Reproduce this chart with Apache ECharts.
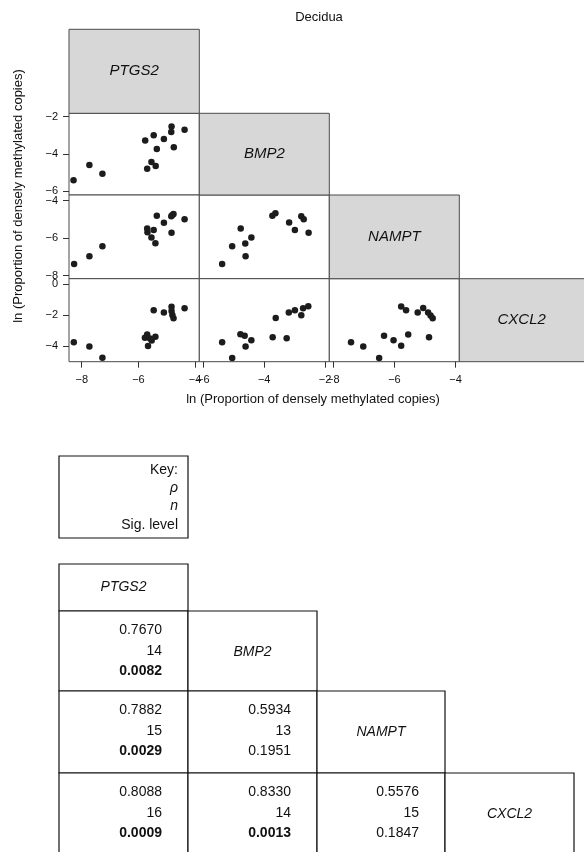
<!DOCTYPE html>
<html>
<head>
<meta charset="utf-8">
<script src="https://cdn.jsdelivr.net/npm/echarts@6/dist/echarts.min.js"></script>
<style>
  html, body { margin: 0; padding: 0; background: #fff; }
  #chart { width: 584px; height: 852px; }
</style>
</head>
<body>
<div id="chart"></div>
<script>
const genes = ['PTGS2', 'BMP2', 'NAMPT', 'CXCL2'];

// scatter points, one array per panel: [x gene value, y gene value]
const ptgs2VsBmp2 = [
  [-8.29, -5.42], [-7.73, -4.60], [-7.27, -5.07], [-5.76, -3.29], [-5.46, -3.01],
  [-5.35, -3.74], [-5.10, -3.21], [-4.83, -2.54], [-4.84, -2.83], [-4.37, -2.71],
  [-4.75, -3.65], [-5.54, -4.44], [-5.39, -4.65], [-5.69, -4.80]
];
const ptgs2VsNampt = [
  [-8.27, -7.38], [-7.73, -6.97], [-7.27, -6.43], [-5.35, -4.80], [-5.69, -5.48],
  [-5.68, -5.69], [-5.46, -5.57], [-5.54, -5.97], [-5.40, -6.27], [-5.10, -5.18],
  [-4.84, -4.83], [-4.76, -4.71], [-4.80, -4.76], [-4.37, -4.99], [-4.83, -5.71]
];
const bmp2VsNampt = [
  [-5.38, -7.38], [-5.05, -6.43], [-4.77, -5.48], [-4.62, -6.28], [-4.42, -5.97],
  [-4.61, -6.97], [-3.73, -4.80], [-3.63, -4.67], [-3.18, -5.17], [-2.99, -5.56],
  [-2.78, -4.83], [-2.70, -4.99], [-2.54, -5.71]
];
const ptgs2VsCxcl2 = [
  [-8.28, -3.75], [-7.73, -4.03], [-7.27, -4.75], [-5.77, -3.47], [-5.69, -3.26],
  [-5.66, -4.00], [-5.53, -3.65], [-5.40, -3.40], [-5.59, -3.52], [-5.46, -1.69],
  [-5.10, -1.84], [-4.83, -1.46], [-4.83, -1.75], [-4.80, -2.00], [-4.76, -2.21],
  [-4.37, -1.56]
];
const bmp2VsCxcl2 = [
  [-5.38, -3.76], [-5.05, -4.77], [-4.78, -3.24], [-4.64, -3.34], [-4.61, -4.03],
  [-4.42, -3.63], [-3.72, -3.43], [-3.62, -2.19], [-3.26, -3.50], [-3.19, -1.84],
  [-2.99, -1.69], [-2.78, -2.02], [-2.72, -1.57], [-2.55, -1.44]
];
const namptVsCxcl2 = [
  [-7.42, -3.76], [-7.02, -4.03], [-6.50, -4.77], [-6.34, -3.34], [-6.03, -3.63],
  [-5.78, -3.98], [-5.55, -3.25], [-5.78, -1.45], [-5.62, -1.70], [-5.24, -1.84],
  [-5.06, -1.55], [-4.90, -1.84], [-4.82, -2.03], [-4.75, -2.21], [-4.87, -3.44]
];

// axis extents and tick labels per gene
const xRanges = [[-8.45, -3.85], [-6.13, -1.86], [-8.13, -3.88]];
const yRanges = [null, [-6.21, -1.83], [-8.16, -3.70], [-5.01, 0.34]];
const xTicks = [[-8, -6, -4], [-6, -4, -2], [-8, -6, -4]];
const yTicks = [null, [-6, -4, -2], [-8, -6, -4], [-4, -2, 0]];

// correlation table
const rhoValues = [[0.7670], [0.7882, 0.5934], [0.8088, 0.8330, 0.5576]];
const nValues = [[14], [15, 13], [16, 14, 15]];
const sigValues = [[0.0082], [0.0029, 0.1951], [0.0009, 0.0013, 0.1847]];

const chart = echarts.init(document.getElementById('chart'));

const panelData = {
  '1-0': ptgs2VsBmp2, '2-0': ptgs2VsNampt, '2-1': bmp2VsNampt,
  '3-0': ptgs2VsCxcl2, '3-1': bmp2VsCxcl2, '3-2': namptVsCxcl2
};

const colX = [69, 199.3, 329.3, 459.3, 586];
const rowY = [29.3, 113.3, 195, 278.7, 361.7];
const FONT = 'Liberation Sans, Arial, sans-serif';
const minus = v => String(v).replace('-', '\u2212');

const grids = [], xAxes = [], yAxes = [], series = [], graphics = [];

let idx = 0;
for (let r = 1; r < 4; r++) {
  for (let c = 0; c < r; c++) {
    grids.push({
      left: colX[c], top: rowY[r],
      width: colX[c + 1] - colX[c], height: rowY[r + 1] - rowY[r],
      show: true, backgroundColor: '#fff', borderColor: '#4a4a4a', borderWidth: 1,
      outerBoundsMode: 'none'
    });
    const bottomRow = r === 3, leftCol = c === 0;
    xAxes.push({
      type: 'value', gridIndex: idx, position: 'bottom',
      min: xRanges[c][0], max: xRanges[c][1],
      axisLine: { show: false, onZero: false },
      splitLine: { show: false },
      axisTick: { show: bottomRow, length: 6, customValues: xTicks[c],
        lineStyle: { color: '#333' } },
      axisLabel: { show: bottomRow, customValues: xTicks[c], margin: 13,
        color: '#111', fontSize: 11, fontFamily: FONT, formatter: minus }
    });
    yAxes.push({
      type: 'value', gridIndex: idx, position: 'left',
      min: yRanges[r][0], max: yRanges[r][1],
      axisLine: { show: false, onZero: false },
      splitLine: { show: false },
      axisTick: { show: leftCol, length: 6, customValues: yTicks[r],
        lineStyle: { color: '#333' } },
      axisLabel: { show: leftCol, customValues: yTicks[r], margin: 11,
        color: '#111', fontSize: 11, fontFamily: FONT, formatter: minus }
    });
    series.push({
      type: 'scatter', xAxisIndex: idx, yAxisIndex: idx,
      symbol: 'circle', symbolSize: 6.5,
      itemStyle: { color: '#1c1c1c', opacity: 1 },
      silent: true,
      data: panelData[r + '-' + c]
    });
    idx++;
  }
}

// grey diagonal panels with gene names
for (let i = 0; i < 4; i++) {
  graphics.push({
    type: 'rect',
    shape: { x: colX[i], y: rowY[i], width: colX[i + 1] - colX[i], height: rowY[i + 1] - rowY[i] },
    style: { fill: '#d7d7d7', stroke: '#4a4a4a', lineWidth: 1 }
  });
  graphics.push({
    type: 'text',
    x: (colX[i] + Math.min(colX[i + 1], 584)) / 2,
    y: (rowY[i] + rowY[i + 1]) / 2,
    style: { text: genes[i], fill: '#111', font: 'italic 15px ' + FONT,
      align: 'center', verticalAlign: 'middle' }
  });
}

// titles
graphics.push({
  type: 'text', x: 319, y: 17,
  style: { text: 'Decidua', fill: '#111', font: '13px ' + FONT, align: 'center', verticalAlign: 'middle' }
});
graphics.push({
  type: 'text', x: 313, y: 399,
  style: { text: 'ln (Proportion of densely methylated copies)', fill: '#111',
    font: '13px ' + FONT, align: 'center', verticalAlign: 'middle' }
});
graphics.push({
  type: 'text', x: 18, y: 196, rotation: Math.PI / 2,
  style: { text: 'ln (Proportion of densely methylated copies)', fill: '#111',
    font: '13px ' + FONT, align: 'center', verticalAlign: 'middle' }
});

// key box
graphics.push({
  type: 'rect', shape: { x: 59, y: 456, width: 129, height: 82 },
  style: { fill: '#fff', stroke: '#111', lineWidth: 1.2 }
});
[['Key:', 'normal'], ['\u03c1', 'italic'], ['n', 'italic'], ['Sig. level', 'normal']].forEach((k, i) => {
  graphics.push({
    type: 'text', x: 178, y: 470 + i * 18.3,
    style: { text: k[0], fill: '#111', font: k[1] + ' 14px ' + FONT,
      align: 'right', verticalAlign: 'middle' }
  });
});

// correlation table
const tabX = [59, 188, 317, 445, 574];
const tabY = [564, 611, 691, 773, 880];
for (let r = 0; r < 4; r++) {
  for (let c = 0; c <= r; c++) {
    graphics.push({
      type: 'rect',
      shape: { x: tabX[c], y: tabY[r], width: tabX[c + 1] - tabX[c], height: tabY[r + 1] - tabY[r] },
      style: { fill: '#fff', stroke: '#111', lineWidth: 1.2 }
    });
    if (c === r) {
      graphics.push({
        type: 'text', x: (tabX[c] + tabX[c + 1]) / 2,
        y: r === 0 ? (tabY[0] + tabY[1]) / 2 : tabY[r] + 41,
        style: { text: genes[c], fill: '#111', font: 'italic 14px ' + FONT,
          align: 'center', verticalAlign: 'middle' }
      });
    } else {
      const sig = sigValues[r - 1][c];
      const lines = [
        [rhoValues[r - 1][c].toFixed(4), 'normal'],
        [String(nValues[r - 1][c]), 'normal'],
        [sig.toFixed(4), sig < 0.05 ? 'bold' : 'normal']
      ];
      lines.forEach((ln, i) => {
        graphics.push({
          type: 'text', x: tabX[c + 1] - 26, y: tabY[r] + 19.5 + i * 20.5,
          style: { text: ln[0], fill: '#111', font: ln[1] + ' 14px ' + FONT,
            align: 'right', verticalAlign: 'middle' }
        });
      });
    }
  }
}

chart.setOption({
  animation: false,
  backgroundColor: '#fff',
  grid: grids,
  xAxis: xAxes,
  yAxis: yAxes,
  series: series,
  graphic: { elements: graphics }
});
</script>
</body>
</html>
